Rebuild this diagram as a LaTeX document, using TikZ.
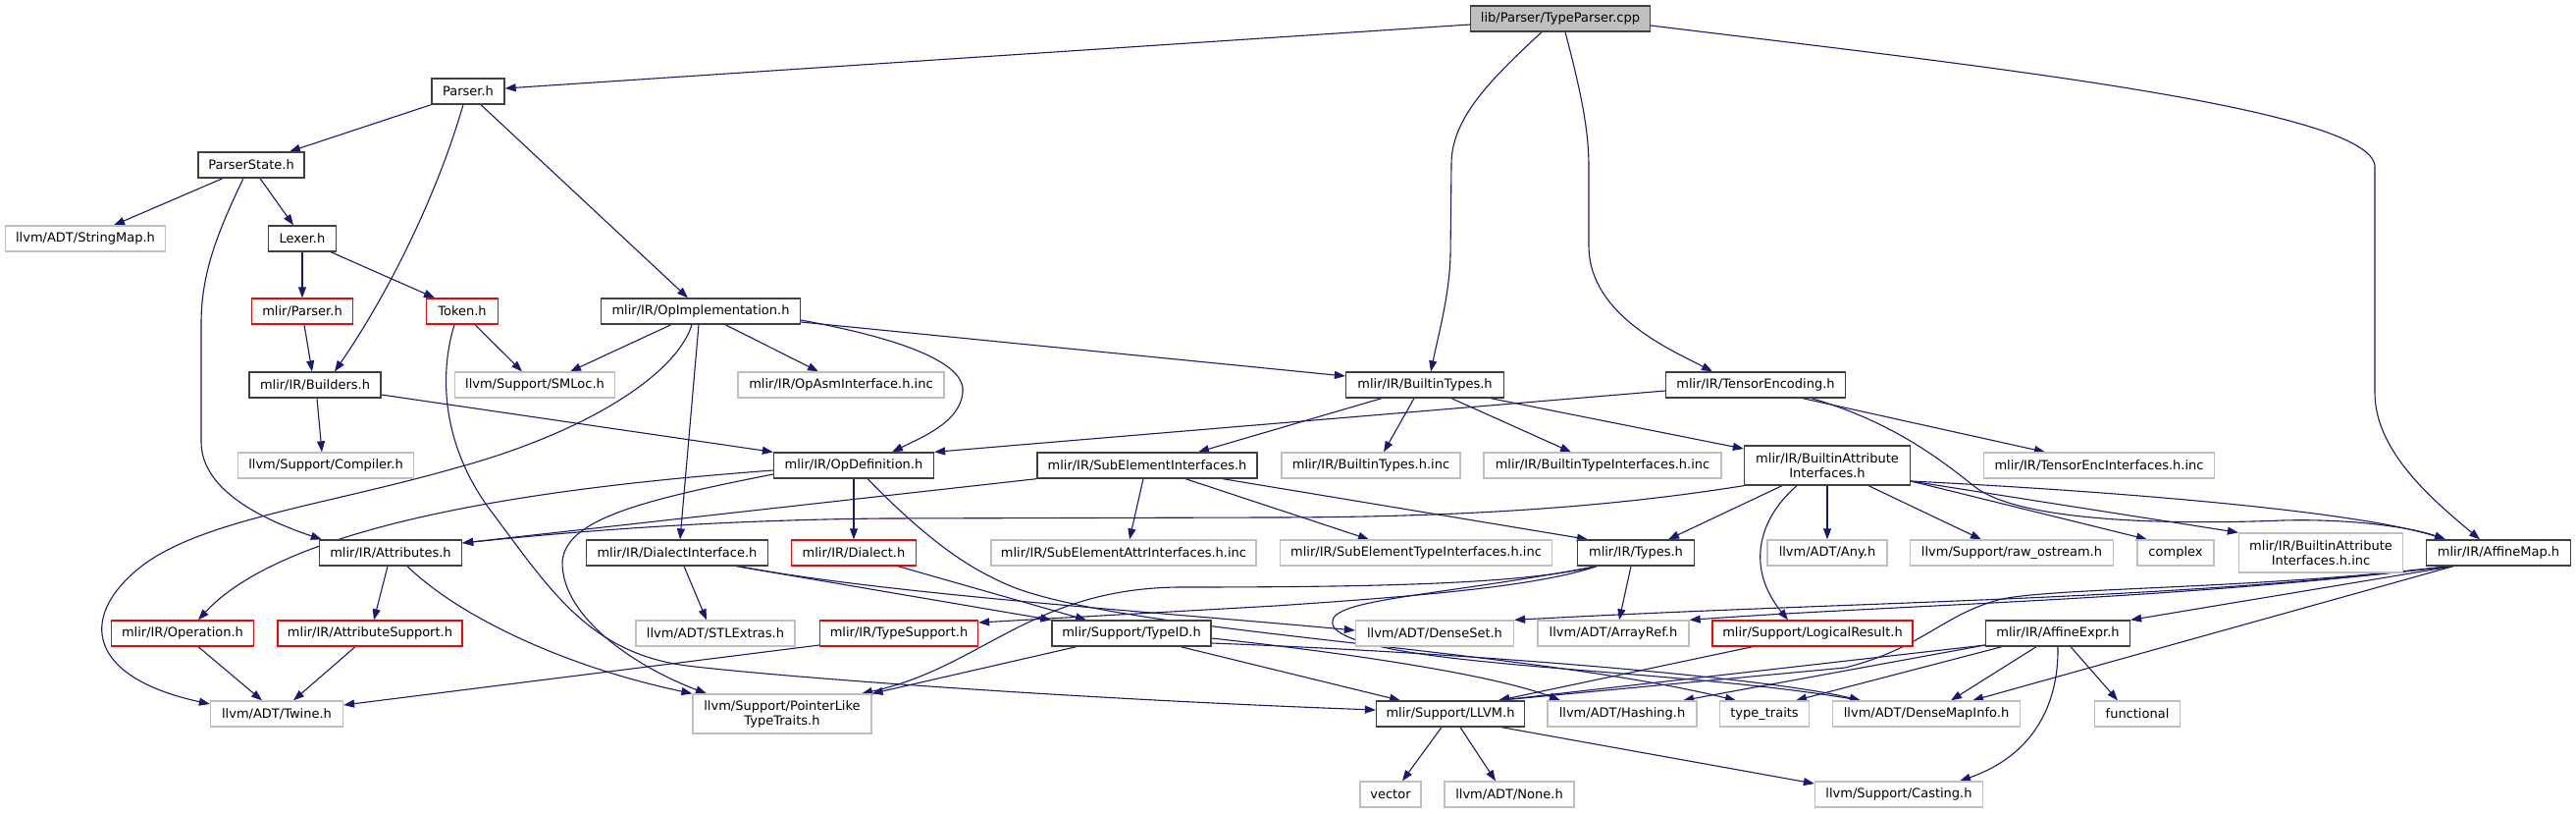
\documentclass[tikz,border=0pt]{standalone}
\usepackage{fontspec}
\setmainfont{DejaVu Sans}
\usetikzlibrary{arrows.meta}
\pgfdeclarelayer{bg}
\pgfsetlayers{bg,main}
\definecolor{edgec}{HTML}{191970}
\definecolor{greyb}{HTML}{BFBFBF}
\definecolor{darkb}{HTML}{404040}
\definecolor{redb}{HTML}{FF0000}
\definecolor{rootf}{HTML}{BFBFBF}
\tikzset{
  nd/.style={rectangle, inner sep=0pt, line width=1.3pt, fill=white, text=black,
             font=\fontsize{13}{15}\selectfont, align=center},
  blk/.style={nd, draw=darkb},
  gry/.style={nd, draw=greyb},
  rd/.style={nd, draw=redb},
  sz/.style 2 args={minimum width=#1pt, minimum height=#2pt},
  e/.style={draw=edgec, line width=1.1pt, -{Triangle[length=11pt,width=8pt]}},
}
\begin{document}
\begin{tikzpicture}[x=1pt,y=-1pt]
\useasboundingbox (0,0) rectangle (2625,828);
% nodes
\node[blk, sz={183}{26}, fill=rootf] (root) at (1590,19) {lib/Parser/TypeParser.cpp};
\node[blk, sz={74}{26}] (parser) at (477,93) {Parser.h};
\node[blk, sz={108}{26}] (pstate) at (256,168) {ParserState.h};
\node[gry, sz={163}{26}] (strmap) at (87,243) {llvm/ADT/StringMap.h};
\node[blk, sz={69}{26}] (lexer) at (308,243) {Lexer.h};
\node[rd, sz={103}{26}] (mparser) at (308,317) {mlir/Parser.h};
\node[rd, sz={73}{26}] (token) at (471,317) {Token.h};
\node[blk, sz={203}{26}] (opimpl) at (714,317) {mlir/IR/OpImplementation.h};
\node[blk, sz={134}{26}] (builders) at (321,392) {mlir/IR/Builders.h};
\node[gry, sz={163}{26}] (smloc) at (545,392) {llvm/Support/SMLoc.h};
\node[gry, sz={210}{26}] (opasm) at (857,392) {mlir/IR/OpAsmInterface.h.inc};
\node[blk, sz={161}{26}] (btypes) at (1452,392) {mlir/IR/BuiltinTypes.h};
\node[blk, sz={183}{26}] (tenc) at (1789,392) {mlir/IR/TensorEncoding.h};
\node[gry, sz={179}{26}] (compiler) at (332,474) {llvm/Support/Compiler.h};
\node[blk, sz={163}{26}] (opdef) at (870,474) {mlir/IR/OpDefinition.h};
\node[blk, sz={224}{26}] (subel) at (1169,474) {mlir/IR/SubElementInterfaces.h};
\node[gry, sz={182}{26}] (btinc) at (1397,474) {mlir/IR/BuiltinTypes.h.inc};
\node[gry, sz={242}{26}] (btiinc) at (1633,474) {mlir/IR/BuiltinTypeInterfaces.h.inc};
\node[blk, sz={169}{40}] (bai) at (1862,474) {mlir/IR/BuiltinAttribute\\Interfaces.h};
\node[gry, sz={235}{26}] (teninc) at (2139,474) {mlir/IR/TensorEncInterfaces.h.inc};
\node[blk, sz={145}{26}] (attrs) at (398,563) {mlir/IR/Attributes.h};
\node[blk, sz={185}{26}] (dialint) at (690,563) {mlir/IR/DialectInterface.h};
\node[rd, sz={127}{26}] (dialect) at (870,563) {mlir/IR/Dialect.h};
\node[gry, sz={270}{26}] (seattr) at (1145,563) {mlir/IR/SubElementAttrInterfaces.h.inc};
\node[gry, sz={277}{26}] (setype) at (1443,563) {mlir/IR/SubElementTypeInterfaces.h.inc};
\node[blk, sz={119}{26}] (types) at (1667,563) {mlir/IR/Types.h};
\node[gry, sz={122}{26}] (any) at (1862,563) {llvm/ADT/Any.h};
\node[gry, sz={207}{26}] (rawos) at (2050,563) {llvm/Support/raw\_ostream.h};
\node[gry, sz={78}{26}] (complex) at (2217,563) {complex};
\node[gry, sz={167}{40}] (baiinc) at (2365,563) {mlir/IR/BuiltinAttribute\\Interfaces.h.inc};
\node[blk, sz={147}{26}] (affmap) at (2546,563) {mlir/IR/AffineMap.h};
\node[rd, sz={145}{26}] (operation) at (186,645) {mlir/IR/Operation.h};
\node[rd, sz={188}{26}] (attrsup) at (377,645) {mlir/IR/AttributeSupport.h};
\node[gry, sz={162}{26}] (stl) at (729,645) {llvm/ADT/STLExtras.h};
\node[rd, sz={161}{26}] (typesup) at (916,645) {mlir/IR/TypeSupport.h};
\node[blk, sz={162}{26}] (typeid) at (1153,645) {mlir/Support/TypeID.h};
\node[gry, sz={161}{26}] (denseset) at (1462,645) {llvm/ADT/DenseSet.h};
\node[gry, sz={154}{26}] (arrayref) at (1644,645) {llvm/ADT/ArrayRef.h};
\node[rd, sz={204}{26}] (logres) at (1847,645) {mlir/Support/LogicalResult.h};
\node[blk, sz={147}{26}] (affexpr) at (2097,645) {mlir/IR/AffineExpr.h};
\node[gry, sz={135}{26}] (twine) at (282,727) {llvm/ADT/Twine.h};
\node[gry, sz={182}{40}] (ptrlike) at (797,727) {llvm/Support/PointerLike\\TypeTraits.h};
\node[blk, sz={151}{26}] (llvm) at (1478,727) {mlir/Support/LLVM.h};
\node[gry, sz={152}{26}] (hashing) at (1653,727) {llvm/ADT/Hashing.h};
\node[gry, sz={91}{26}] (typetraits) at (1798,727) {type\_traits};
\node[gry, sz={191}{26}] (dmi) at (1963,727) {llvm/ADT/DenseMapInfo.h};
\node[gry, sz={87}{26}] (functional) at (2178,727) {functional};
\node[gry, sz={62}{26}] (vector) at (1417,809) {vector};
\node[gry, sz={132}{26}] (none) at (1538,809) {llvm/ADT/None.h};
\node[gry, sz={171}{26}] (casting) at (1935,809) {llvm/Support/Casting.h};
% edges
\begin{pgfonlayer}{bg}
\draw[e] ([yshift=-6pt]root.west) -- ([yshift=3pt]parser.east);
\draw[e] ([xshift=-19pt]root.south) .. controls (1520,80) and (1479,120) .. (1479,167) -- (1478,260) .. controls (1477,300) and (1466,340) .. ([xshift=6pt]btypes.north);
\draw[e] ([xshift=5pt]root.south) .. controls (1610,90) and (1619,130) .. (1619,170) -- (1619,250) .. controls (1619,320) and (1700,355) .. ([xshift=-44pt]tenc.north);
\draw[e] ([yshift=-7pt]root.east) .. controls (2000,65) and (2420,110) .. (2420,170) -- (2420,400) .. controls (2420,460) and (2480,510) .. ([xshift=-19pt]affmap.north);
\draw[e] (parser.south west) -- ([xshift=39pt]pstate.north);
\draw[e] ([xshift=-5pt]parser.south) .. controls (445,200) and (395,300) .. ([xshift=20pt]builders.north);
\draw[e] ([xshift=13pt]parser.south) -- ([xshift=-13pt]opimpl.north);
\draw[e] ([xshift=-29pt]pstate.south) -- ([xshift=29pt]strmap.north);
\draw[e] ([xshift=9pt]pstate.south) -- ([xshift=-9pt]lexer.north);
\draw[e] ([xshift=-8pt]pstate.south) .. controls (220,240) and (205,280) .. (205,330) -- (205,450) .. controls (205,500) and (270,530) .. ([xshift=3pt]attrs.north west);
\draw[e] (lexer.south) -- (mparser.north);
\draw[e] ([xshift=29pt]lexer.south) -- ([xshift=-28pt]token.north);
\draw[e] ([xshift=2pt]mparser.south) -- ([xshift=-3pt]builders.north);
\draw[e] ([xshift=13pt]token.south) -- ([xshift=-13pt]smloc.north);
\draw[e] ([xshift=-8pt]token.south) .. controls (445,390) and (455,460) .. (500,520) .. controls (560,600) and (600,665) .. (700,678) .. controls (800,690) and (1100,712) .. ([yshift=4pt]llvm.west);
\draw[e] ([xshift=-30pt]opimpl.south) -- ([xshift=36pt]smloc.north);
\draw[e] ([xshift=25pt]opimpl.south) -- ([xshift=-23pt]opasm.north);
\draw[e] ([yshift=-11pt]opimpl.east) -- ([yshift=9pt]btypes.west);
\draw[e] ([yshift=-9pt]opimpl.east) .. controls (920,345) and (985,370) .. (981,400) .. controls (978,430) and (940,445) .. ([xshift=39pt]opdef.north);
\draw[e] ([xshift=-2pt]opimpl.south) -- ([xshift=3pt]dialint.north);
\draw[e] ([xshift=-9pt]opimpl.south) .. controls (690,380) and (600,440) .. (463,477) .. controls (330,515) and (200,530) .. (140,580) .. controls (80,630) and (90,690) .. ([yshift=10pt]twine.west);
\draw[e] ([xshift=2pt]builders.south) -- ([xshift=-4pt]compiler.north);
\draw[e] ([yshift=-10pt]builders.east) -- (opdef.north west);
\draw[e] ([xshift=-44pt]btypes.south) -- ([xshift=52pt]subel.north);
\draw[e] ([xshift=-11pt]btypes.south) -- ([xshift=13pt]btinc.north);
\draw[e] ([xshift=27pt]btypes.south) -- ([xshift=-32pt]btiinc.north);
\draw[e] ([xshift=67pt]btypes.south) -- ([yshift=17pt]bai.west);
\draw[e] ([yshift=-6pt]tenc.west) -- (opdef.north east);
\draw[e] ([xshift=48pt]tenc.south) -- ([xshift=-55pt]teninc.north);
\draw[e] ([xshift=57pt]tenc.south) .. controls (1930,430) and (1980,470) .. (2014,497) .. controls (2060,530) and (2200,535) .. (2326,530) .. controls (2400,528) and (2460,538) .. ([xshift=-54pt]affmap.north);
\draw[e] ([yshift=-5pt]opdef.west) .. controls (600,493) and (300,525) .. ([xshift=16pt]operation.north);
\draw[e] (opdef.south) -- (dialect.north);
\draw[e] ([yshift=-9pt]opdef.west) .. controls (650,510) and (575,530) .. (573,573) .. controls (573,630) and (650,680) .. ([xshift=-77pt]ptrlike.north);
\draw[e] ([xshift=14pt]opdef.south) .. controls (950,555) and (990,580) .. (1030,597) .. controls (1150,645) and (1550,660) .. ([xshift=-29pt]typetraits.north);
\draw[e] (subel.south west) -- ([yshift=10pt]attrs.east);
\draw[e] ([xshift=-4pt]subel.south) -- ([xshift=6pt]seattr.north);
\draw[e] ([xshift=39pt]subel.south) -- ([xshift=-48pt]setype.north);
\draw[e] ([xshift=77pt]subel.south) -- ([xshift=-49pt]types.north);
\draw[e] (bai.south west) .. controls (1650,515) and (1500,527) .. (1290,527) -- (900,528) .. controls (700,530) and (550,545) .. ([yshift=10pt]attrs.east);
\draw[e] ([xshift=-46pt]bai.south) -- ([xshift=33pt]types.north);
\draw[e] ([xshift=-31pt]bai.south) .. controls (1790,530) and (1780,580) .. ([xshift=-25pt]logres.north);
\draw[e] (bai.south) -- (any.north);
\draw[e] ([xshift=42pt]bai.south) -- ([xshift=-31pt]rawos.north);
\draw[e] ([yshift=-16pt]bai.east) -- ([xshift=-29pt]complex.north);
\draw[e] ([yshift=-16pt]bai.east) -- (baiinc.north west);
\draw[e] ([yshift=-16pt]bai.east) .. controls (2150,500) and (2400,520) .. ([xshift=-54pt]affmap.north);
\draw[e] ([xshift=-3pt]attrs.south) -- ([xshift=4pt]attrsup.north);
\draw[e] ([xshift=17pt]attrs.south) .. controls (470,630) and (580,680) .. (ptrlike.north west);
\draw[e] ([xshift=7pt]dialint.south) -- ([xshift=-9pt]stl.north);
\draw[e] ([xshift=60pt]dialint.south) -- (typeid.north west);
\draw[e] ([xshift=63pt]dialint.south) .. controls (900,605) and (1200,625) .. ([yshift=3pt]denseset.west);
\draw[e] ([xshift=45pt]dialect.south) -- ([xshift=-46pt]typeid.north);
\draw[e] ([xshift=-40pt]types.south) .. controls (1560,600) and (1400,610) .. (1300,617) -- ([yshift=11pt]typesup.east);
\draw[e] ([xshift=-5pt]types.south) -- ([xshift=6pt]arrayref.north);
\draw[e] ([xshift=-40pt]types.south) .. controls (1550,595) and (1400,598) .. (1200,598) .. controls (1050,600) and (1000,680) .. ([xshift=81pt]ptrlike.north);
\draw[e] ([xshift=-40pt]types.south) .. controls (1450,610) and (1340,610) .. (1360,640) .. controls (1400,680) and (1700,680) .. ([xshift=-67pt]dmi.north);
\draw[e] ([xshift=16pt]operation.south) -- ([xshift=-15pt]twine.north);
\draw[e] ([xshift=-15pt]attrsup.south) -- ([xshift=17pt]twine.north);
\draw[e] ([yshift=-12pt]typesup.west) -- ([yshift=9pt]twine.east);
\draw[e] ([xshift=-56pt]typeid.south) -- (ptrlike.north east);
\draw[e] ([xshift=50pt]typeid.south) -- ([xshift=-51pt]llvm.north);
\draw[e] ([yshift=-5pt]typeid.east) .. controls (1400,668) and (1530,690) .. ([xshift=-63pt]hashing.north);
\draw[e] ([yshift=-10pt]typeid.east) .. controls (1500,665) and (1800,690) .. ([xshift=-67pt]dmi.north);
\draw[e] ([xshift=-61pt]logres.south) -- ([xshift=49pt]llvm.north);
\draw[e] ([xshift=-46pt]affmap.south) -- (affexpr.north east);
\draw[e] ([xshift=-46pt]affmap.south) -- ([xshift=47pt]dmi.north);
\draw[e] ([xshift=-49pt]affmap.south) .. controls (2200,612) and (1900,612) .. (denseset.north east);
\draw[e] ([xshift=-49pt]affmap.south) .. controls (2200,612) and (1950,615) .. (arrayref.north east);
\draw[e] ([xshift=-51pt]affmap.south) .. controls (2300,600) and (2100,598) .. (2040,610) .. controls (1980,625) and (1960,660) .. (1880,680) -- ([xshift=49pt]llvm.north);
\draw[e] ([yshift=-12pt]affexpr.west) -- ([xshift=49pt]llvm.north);
\draw[e] ([yshift=-12pt]affexpr.west) -- ([xshift=62pt]hashing.north);
\draw[e] ([xshift=-57pt]affexpr.south) -- ([xshift=32pt]typetraits.north);
\draw[e] ([xshift=-22pt]affexpr.south) -- ([xshift=25pt]dmi.north);
\draw[e] (affexpr.south) .. controls (2098,720) and (2070,770) .. ([xshift=62pt]casting.north);
\draw[e] ([xshift=13pt]affexpr.south) -- ([xshift=-20pt]functional.north);
\draw[e] ([xshift=-9pt]llvm.south) -- ([xshift=12pt]vector.north);
\draw[e] ([xshift=10pt]llvm.south) -- ([xshift=-14pt]none.north);
\draw[e] ([xshift=52pt]llvm.south) -- ([yshift=11pt]casting.west);
\end{pgfonlayer}
\end{tikzpicture}
\end{document}
